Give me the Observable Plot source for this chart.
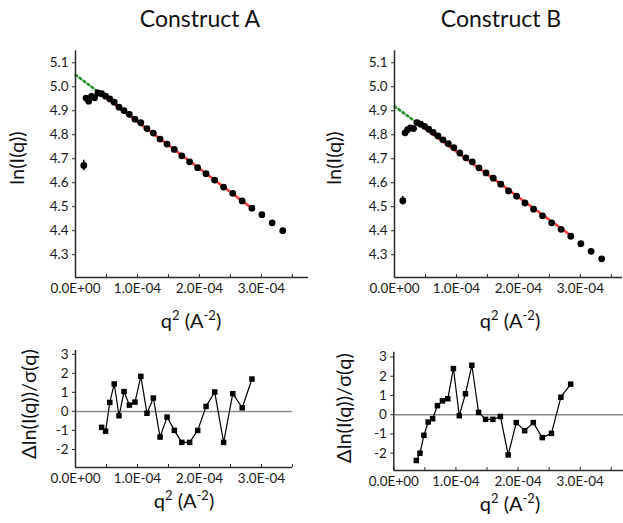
<!DOCTYPE html>
<html>
<head>
<meta charset="utf-8">
<script src="https://cdn.jsdelivr.net/npm/d3@7"></script>
<script src="https://cdn.jsdelivr.net/npm/@observablehq/plot@0.6"></script>
<style>
  html, body { margin: 0; padding: 0; background: #fff; }
  #chart { position: relative; width: 623px; height: 523px; overflow: hidden; font-family: Lato, sans-serif; }
  #chart svg { position: absolute; left: 0; top: 0; }
</style>
</head>
<body>
<div id="chart"></div>
<script>
// ---------- data ----------
const q2 = [1.34e-5, 1.71e-5, 2.12e-5, 2.58e-5, 3.08e-5, 3.62e-5, 4.21e-5, 4.85e-5, 5.53e-5, 6.25e-5,
            7.02e-5, 7.83e-5, 8.69e-5, 9.59e-5, 1.054e-4, 1.153e-4, 1.256e-4, 1.364e-4, 1.477e-4, 1.594e-4,
            1.715e-4, 1.841e-4, 1.971e-4, 2.106e-4, 2.245e-4, 2.389e-4, 2.537e-4, 2.689e-4, 2.846e-4, 3.008e-4,
            3.173e-4, 3.344e-4];
const lnIA = [4.672, 4.953, 4.940, 4.960, 4.954, 4.974, 4.971, 4.961, 4.950, 4.936,
              4.915, 4.901, 4.885, 4.865, 4.850, 4.826, 4.807, 4.782, 4.761, 4.739,
              4.712, 4.687, 4.663, 4.638, 4.611, 4.582, 4.556, 4.524, 4.494, 4.467,
              4.433, 4.400];
const lnIB = [4.525, 4.808, 4.821, 4.829, 4.826, 4.851, 4.844, 4.835, 4.823, 4.810,
              4.795, 4.779, 4.763, 4.746, 4.724, 4.704, 4.687, 4.662, 4.641, 4.619,
              4.594, 4.566, 4.544, 4.516, 4.490, 4.462, 4.433, 4.406, 4.377, 4.346,
              4.314, 4.283];
const errA = [0.022, 0.006, 0.006, 0.006, 0.006, 0.005, 0.005, 0.005, 0.005, 0.005,
              0.005, 0.005, 0.005, 0.005, 0.005, 0.005, 0.005, 0.005, 0.005, 0.005,
              0.005, 0.005, 0.005, 0.005, 0.005, 0.005, 0.005, 0.005, 0.005, 0.005,
              0.005, 0.005];
const errB = [0.018, 0.005, 0.005, 0.005, 0.005, 0.005, 0.005, 0.005, 0.005, 0.005,
              0.005, 0.005, 0.005, 0.005, 0.005, 0.005, 0.005, 0.005, 0.005, 0.005,
              0.005, 0.005, 0.005, 0.005, 0.005, 0.005, 0.005, 0.005, 0.005, 0.005,
              0.005, 0.005];
// Guinier fit lines: extrapolation (green) and fitted range (red)
const fitAX = [0, 4.21e-5, 2.846e-4];
const fitAY = [5.05, 4.968, 4.494];
const fitBX = [0, 3.62e-5, 2.846e-4];
const fitBY = [4.919, 4.850, 4.380];
// normalised residuals over the fitted range
const resAStart = 6;
const resA = [-0.84, -1.04, 0.47, 1.44, -0.23, 1.04, 0.33, 0.49, 1.84, -0.10,
              0.70, -1.35, -0.30, -1.00, -1.63, -1.63, -1.00, 0.26, 1.02, -1.63,
              0.93, 0.19, 1.70];
const resBStart = 5;
const resB = [-2.38, -2.00, -1.07, -0.38, -0.21, 0.47, 0.72, 0.83, 2.40, -0.05,
              1.09, 2.57, 0.12, -0.24, -0.24, -0.09, -2.09, -0.41, -0.83, -0.41,
              -1.19, -0.97, 0.91, 1.59];
// ticks
const xTicks = [0, 1e-4, 2e-4, 3e-4];
const xTickLabels = ["0.0E+00", "1.0E-04", "2.0E-04", "3.0E-04"];
const xMinorTicks = [0, 0.5e-4, 1e-4, 1.5e-4, 2e-4, 2.5e-4, 3e-4, 3.5e-4];
const yTicksTop = [4.3, 4.4, 4.5, 4.6, 4.7, 4.8, 4.9, 5.0, 5.1];
const yTicksRes = [-2, -1, 0, 1, 2, 3];
const titles = ["Construct A", "Construct B"];

// ---------- drawing ----------
const W = 623, H = 523;
const chart = document.getElementById("chart");
const AXIS = "#2a2a2a";

function panel({frame, xDomain, yDomain, yTicks, yFmt, marks}) {
  const [l, r, t, b] = frame;
  const fmtX = d => xTickLabels[xTicks.indexOf(d)];
  const svg = Plot.plot({
    width: W, height: H,
    marginLeft: l, marginRight: W - r, marginTop: t, marginBottom: H - b,
    x: {domain: xDomain, axis: null},
    y: {domain: yDomain, axis: null},
    style: {fontFamily: "Lato, sans-serif", background: "transparent", color: "#222", overflow: "visible"},
    marks: [
      ...marks,
      Plot.ruleX([xDomain[0]], {y1: yDomain[0], y2: yDomain[1], stroke: AXIS, strokeWidth: 1.5}),
      Plot.ruleY([yDomain[0]], {x1: xDomain[0], x2: xDomain[1], stroke: AXIS, strokeWidth: 1.5}),
      Plot.axisY({ticks: yTicks, tickSize: 3, tickPadding: 4, tickFormat: yFmt, fontSize: 13.5,
                  stroke: AXIS, fill: "#1a1a1a", label: null}),
      Plot.axisX({ticks: xMinorTicks.filter(d => d <= xDomain[1]), tickSize: -3, tickFormat: () => "",
                  stroke: AXIS, label: null}),
      Plot.axisX({ticks: xTicks, tickSize: 0, tickPadding: 6, tickFormat: fmtX, fontSize: 13.5,
                  fill: "#1a1a1a", label: null})
    ]
  });
  chart.appendChild(svg);
}

function guinier(lnI, err, fitX, fitY) {
  const pts = q2.map((x, i) => ({x, y: lnI[i], e: err[i]}));
  return [
    Plot.line([{x: fitX[1], y: fitY[1]}, {x: fitX[2], y: fitY[2]}], {x: "x", y: "y", stroke: "#f23c3c", strokeWidth: 2.6}),
    Plot.line([{x: fitX[0], y: fitY[0]}, {x: fitX[1], y: fitY[1]}], {x: "x", y: "y", stroke: "#2b8f2b", strokeWidth: 2.6, strokeDasharray: "2,3"}),
    Plot.ruleX(pts, {x: "x", y1: d => d.y - d.e, y2: d => d.y + d.e, stroke: "#000", strokeWidth: 1.5}),
    Plot.dot(pts, {x: "x", y: "y", r: 3.4, fill: "#000"})
  ];
}

function residual(res, start) {
  const pts = res.map((v, i) => ({x: q2[start + i], y: v}));
  return [
    Plot.ruleY([0], {stroke: "#8a8a8a", strokeWidth: 1.5}),
    Plot.line(pts, {x: "x", y: "y", stroke: "#000", strokeWidth: 1.2}),
    Plot.dot(pts, {x: "x", y: "y", symbol: "square", r: 3.1, fill: "#000"})
  ];
}

const f1 = d => d.toFixed(1);
const f0 = d => String(d);

// top-left: Construct A
panel({frame: [75, 308, 50.3, 277], xDomain: [0, 3.76e-4], yDomain: [4.205, 5.15],
       yTicks: yTicksTop, yFmt: f1, marks: guinier(lnIA, errA, fitAX, fitAY)});
// top-right: Construct B
panel({frame: [394, 622, 50.3, 277], xDomain: [0, 3.68e-4], yDomain: [4.205, 5.15],
       yTicks: yTicksTop, yFmt: f1, marks: guinier(lnIB, errB, fitBX, fitBY)});
// bottom-left residuals A
panel({frame: [75, 292, 350, 467], xDomain: [0, 3.5e-4], yDomain: [-2.95, 3.2],
       yTicks: yTicksRes, yFmt: f0, marks: residual(resA, resAStart)});
// bottom-right residuals B
panel({frame: [393.3, 640, 351.7, 470], xDomain: [0, 3.97e-4], yDomain: [-2.9, 3.25],
       yTicks: yTicksRes, yFmt: f0, marks: residual(resB, resBStart)});

// ---------- titles and axis titles ----------
const ov = d3.select(chart).append("svg").attr("width", W).attr("height", H)
  .style("font-family", "Lato, sans-serif").attr("fill", "#111");
ov.append("text").attr("x", 200).attr("y", 27).attr("text-anchor", "middle").attr("font-size", 23).text(titles[0]);
ov.append("text").attr("x", 501).attr("y", 27).attr("text-anchor", "middle").attr("font-size", 23).text(titles[1]);

function ylab(x, y, txt) {
  ov.append("text").attr("transform", `translate(${x},${y}) rotate(-90)`)
    .attr("text-anchor", "middle").attr("font-size", 20).text(txt);
}
ylab(24, 158, "ln(I(q))");
ylab(341, 158, "ln(I(q))");
ylab(36, 404, "Δln(I(q))/σ(q)");
ylab(351, 408, "Δln(I(q))/σ(q)");

function xlab(x, y) {
  const t = ov.append("text").attr("x", x).attr("y", y).attr("text-anchor", "middle").attr("font-size", 20);
  t.append("tspan").text("q");
  t.append("tspan").attr("dy", -8).attr("font-size", 13).text("2");
  t.append("tspan").attr("dy", 8).text(" (A");
  t.append("tspan").attr("dy", -8).attr("font-size", 13).text("-2");
  t.append("tspan").attr("dy", 8).text(")");
}
xlab(191, 328);
xlab(510, 328);
xlab(184, 508);
xlab(510, 511);
</script>
</body>
</html>
